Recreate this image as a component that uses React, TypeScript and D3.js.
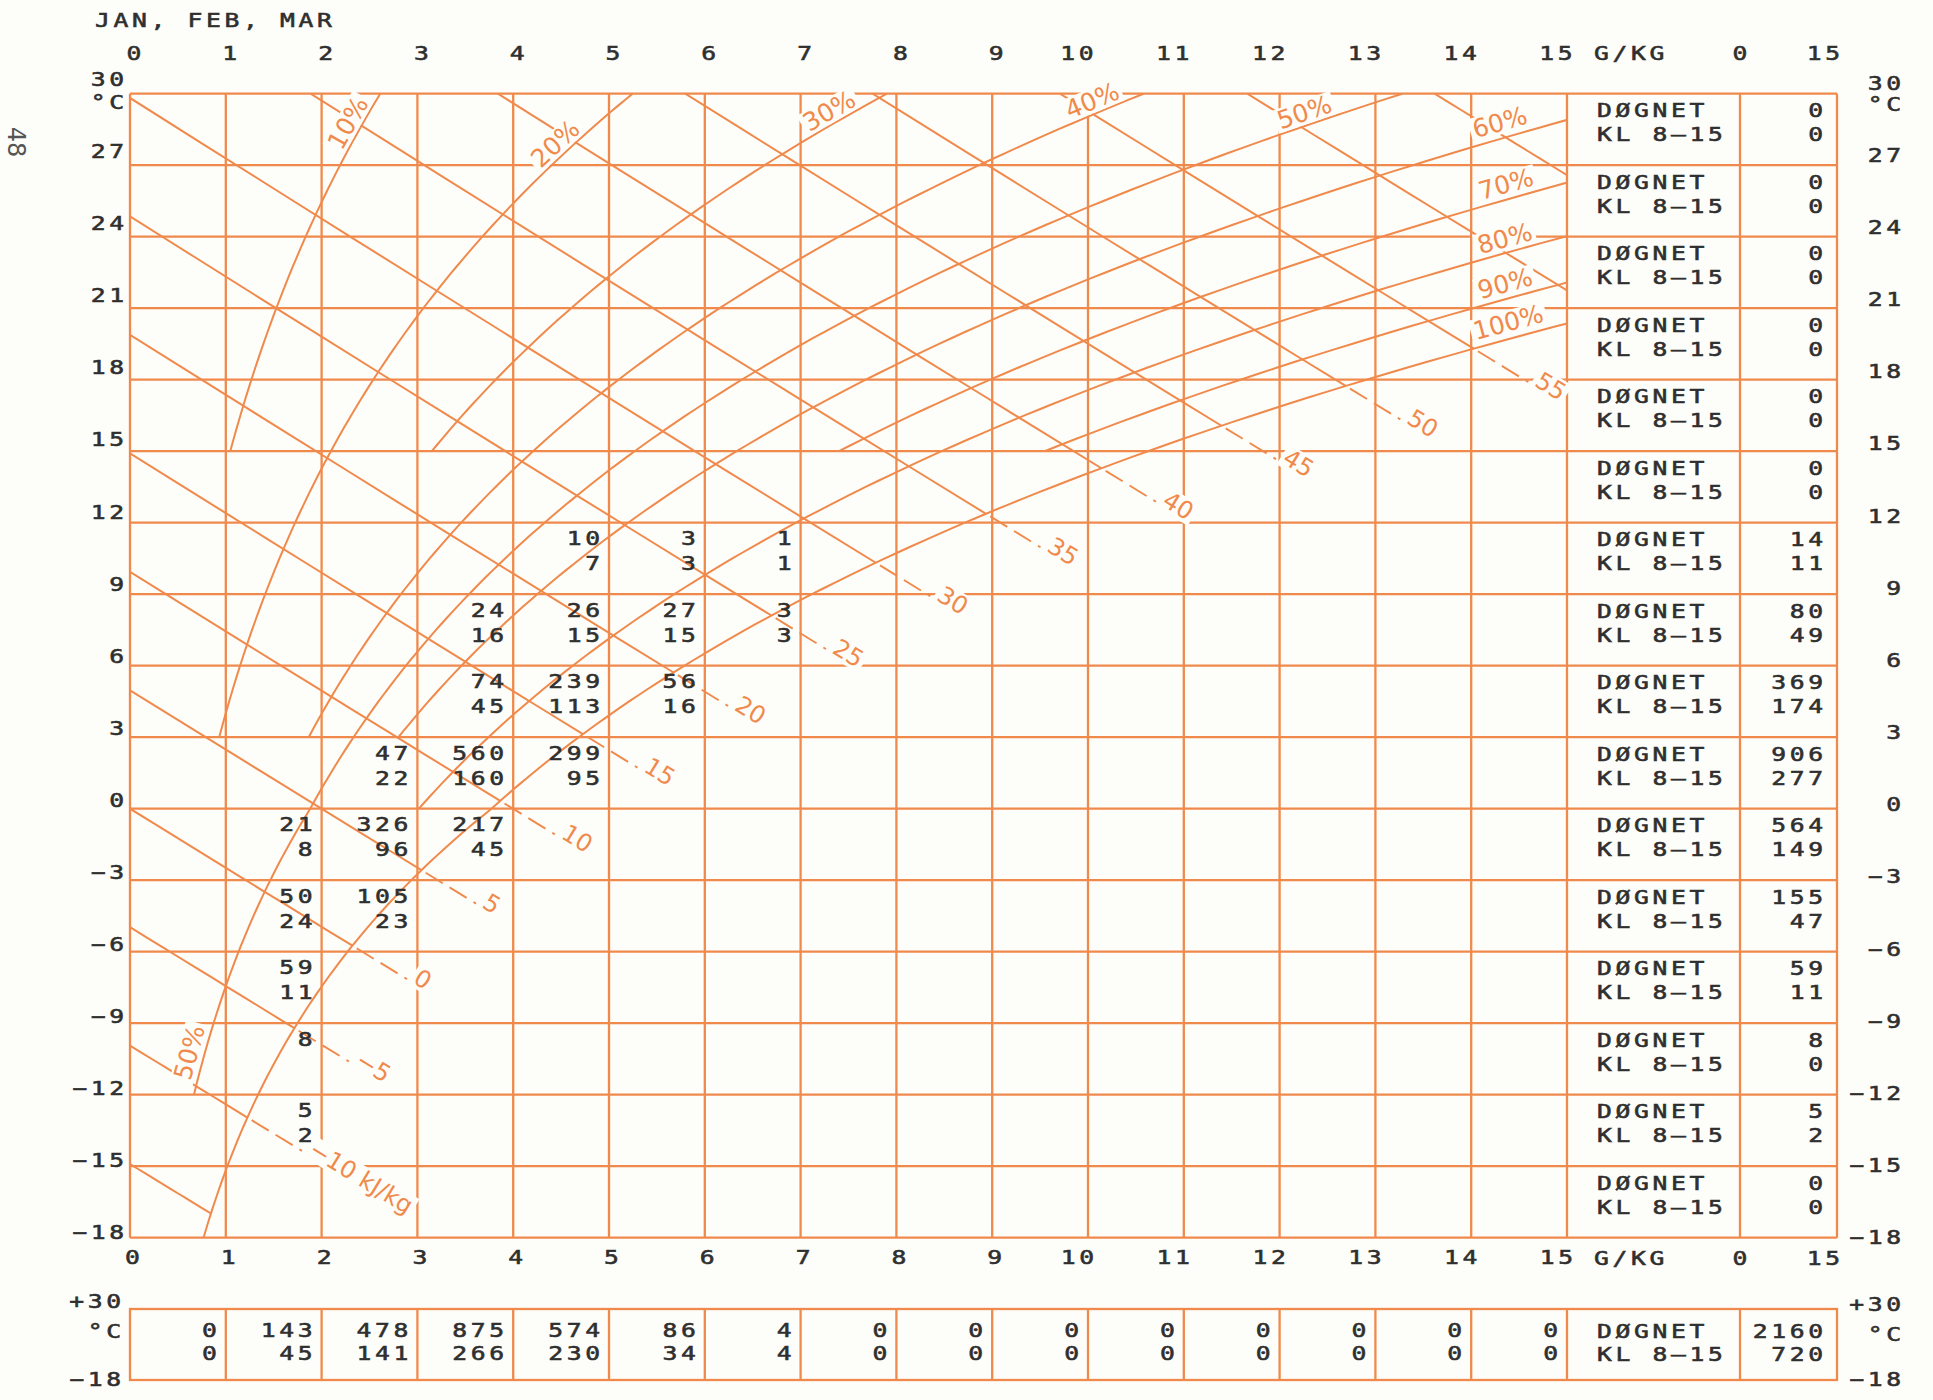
import React from "react";
import * as d3 from "d3";

// ---------- data ----------
const moistureTicks = d3.range(0, 16); // g/kg
const tempTicks = d3.range(30, -19, -3); // °C
const tempBands = d3.range(27, -19, -3); // lower edge of each 3 °C band

const rhLevels = [10, 20, 30, 40, 50, 60, 70, 80, 90, 100];
const rhFromT = [15, 3, 15, 3, -12, 3, 15, 0, 15, -18];
const rhLabelT = [28.5, 27.5, 28.8, 29.2, 28.7, 28.15, 25.6, 23.35, 21.42, 19.75];
const rhLabelGap = [13, 13, 13, 13, 13, 16, 15, 14, 15, 16];
const rhLowLabel = { level: 50, t: -10.4 };

const enthalpyLevels = d3.range(-15, 70, 5); // kJ/kg
const enthalpyLabelled = d3.range(-10, 60, 5);

// hours per cell: [g/kg column start, °C band start, whole day, kl 8-15]
const hourCells: [number, number, number, number][] = [
  [4, 9, 10, 7], [5, 9, 3, 3], [6, 9, 1, 1],
  [3, 6, 24, 16], [4, 6, 26, 15], [5, 6, 27, 15], [6, 6, 3, 3],
  [3, 3, 74, 45], [4, 3, 239, 113], [5, 3, 56, 16],
  [2, 0, 47, 22], [3, 0, 560, 160], [4, 0, 299, 95],
  [1, -3, 21, 8], [2, -3, 326, 96], [3, -3, 217, 45],
  [1, -6, 50, 24], [2, -6, 105, 23],
  [1, -9, 59, 11],
  [1, -12, 8, 0],
  [1, -15, 5, 2],
];
const rowLabels = ["DØGNET", "KL 8–15"];
const periodLabel = "JAN, FEB, MAR";

// ---------- style ----------
const BG = "#fdfdf9";
const ORANGE = "#f08a4c";
const INK = "#2f2f2f";
const MONO = "'DejaVu Sans Mono', monospace";
const SANS = "'DejaVu Sans', sans-serif";
const RH_FONT = 25;
const H_FONT = 24;

const ADV: Record<string, number> = { "%": 0.95, k: 0.579, J: 0.295, "/": 0.337, g: 0.635, " ": 0.318, "−": 0.838 };
const labelWidth = (s: string, size: number) => d3.sum(Array.from(s), (c) => ADV[c] ?? 0.636) * size;

const fmt = (v: number) => (v < 0 ? "−" + Math.abs(v) : String(v));

function T({ x, y, anchor = "start", children, fill = INK, size = 19, sx = 1.3, ls = 2.8 }: any) {
  const dx = anchor === "end" ? ls * sx : anchor === "middle" ? (ls * sx) / 2 : 0;
  return (
    <text
      transform={`translate(${x + dx},${y}) scale(${sx},1)`}
      textAnchor={anchor}
      dominantBaseline="central"
      fontFamily={MONO}
      fontSize={size}
      letterSpacing={ls}
      fill={fill}
      stroke={fill}
      strokeWidth={0.55}
    >
      {children}
    </text>
  );
}

export default function App() {
  const x = d3.scaleLinear().domain([0, 15]).range([130, 1567]);
  const y = d3.scaleLinear().domain([-18, 30]).range([1237.7, 93.7]);
  const tableMid = 1740;
  const tableRight = 1837;
  const stripTop = 1309;
  const stripBot = 1380;

  // moist air relations
  const P = 101.325;
  const psat = (t: number) =>
    t >= 0 ? 0.61094 * Math.exp((17.625 * t) / (t + 243.04)) : 0.61115 * Math.exp((22.452 * t) / (272.55 + t));
  const hum = (t: number, rh: number) => {
    const pv = (rh / 100) * psat(t);
    return (622 * pv) / (P - pv);
  };
  const enth = (t: number, g: number) => 1.006 * t + (g / 1000) * (2501 + 1.86 * t);
  const tOnH = (h: number, g: number) => (h - 2.501 * g) / (1.006 + 0.00186 * g);
  const satT = (h: number) => {
    let lo = -40, hi = 45;
    for (let i = 0; i < 60; i++) {
      const m = (lo + hi) / 2;
      if (enth(m, hum(m, 100)) > h) hi = m;
      else lo = m;
    }
    return (lo + hi) / 2;
  };

  const line = d3.line<[number, number]>().x((d) => x(d[0])).y((d) => y(d[1]));

  // relative humidity curves
  const rhPaths = rhLevels.map((rh, i) => {
    const pts = d3.range(rhFromT[i], 30.001, 0.25).map((t) => [hum(t, rh), t] as [number, number]);
    return line(pts) as string;
  });

  const rhLabel = (rh: number, t: number, d: number) => {
    const px = x(hum(t, rh)), py = y(t);
    const qx = x(hum(t + 0.1, rh)), qy = y(t + 0.1);
    const len = Math.hypot(qx - px, qy - py);
    const ux = (qx - px) / len, uy = (qy - py) / len;
    const nx = uy, ny = -ux;
    return { cx: px + d * nx, cy: py + d * ny, ang: (Math.atan2(uy, ux) * 180) / Math.PI, text: `${rh}%` };
  };
  const rhLabels = rhLevels.map((rh, i) => rhLabel(rh, rhLabelT[i], rhLabelGap[i]));
  rhLabels.push(rhLabel(rhLowLabel.level, rhLowLabel.t, 15));

  // enthalpy lines
  const hLines = enthalpyLevels.map((h) => {
    const g0 = h <= 30 ? 0 : (h - 30.18) / (2.501 + 0.0558);
    const tS = satT(h);
    const gS = hum(tS, 100);
    const gEnd = Math.min(gS, 15);
    const pts = d3.range(0, 11).map((k) => {
      const g = g0 + ((gEnd - g0) * k) / 10;
      return [g, tOnH(h, g)] as [number, number];
    });
    const sx = x(gEnd), sy = y(tOnH(h, gEnd));
    const qx = x(gEnd + 0.2), qy = y(tOnH(h, gEnd + 0.2));
    const len = Math.hypot(qx - sx, qy - sy);
    const ux = (qx - sx) / len, uy = (qy - sy) / len;
    const labelled = gS <= 15 && enthalpyLabelled.includes(h);
    return {
      h,
      path: line(pts) as string,
      sx, sy, ux, uy,
      ang: (Math.atan2(uy, ux) * 180) / Math.PI,
      labelled,
      text: h === -10 ? "−10 kJ/kg" : fmt(h),
    };
  });

  // totals
  const rowTotals = tempBands.map((b) => {
    const cs = hourCells.filter((c) => c[1] === b);
    return [d3.sum(cs, (c) => c[2]), d3.sum(cs, (c) => c[3])];
  });
  const colTotals = moistureTicks.slice(0, 15).map((m) => {
    const cs = hourCells.filter((c) => c[0] === m);
    return [d3.sum(cs, (c) => c[2]), d3.sum(cs, (c) => c[3])];
  });
  const grand = [d3.sum(hourCells, (c) => c[2]), d3.sum(hourCells, (c) => c[3])];

  const tickOffTop = (m: number) => (m < 10 ? 4 : -11);
  const tickOffBot = (m: number) => (m < 10 ? 2.5 : -10.5);

  return (
    <svg width={1933} height={1400} style={{ position: "absolute", left: 0, top: 0 }}>
      <rect width={1933} height={1400} fill={BG} />
      <defs>
        <clipPath id="plotArea">
          <rect x={x(0)} y={y(30)} width={x(15) - x(0)} height={y(-18) - y(30)} />
        </clipPath>
      </defs>

      {/* grid */}
      <g stroke={ORANGE} strokeWidth={2.3} fill="none">
        {tempTicks.map((t) => (
          <line key={"h" + t} x1={x(0)} x2={tableRight} y1={y(t)} y2={y(t)} />
        ))}
        {moistureTicks.map((m) => (
          <line key={"v" + m} x1={x(m)} x2={x(m)} y1={y(30)} y2={y(-18)} />
        ))}
        <line x1={tableMid} x2={tableMid} y1={y(30)} y2={y(-18)} />
        <line x1={tableRight} x2={tableRight} y1={y(30)} y2={y(-18)} />
        {/* summary strip */}
        <rect x={x(0)} y={stripTop} width={tableRight - x(0)} height={stripBot - stripTop} />
        {moistureTicks.slice(1).map((m) => (
          <line key={"s" + m} x1={x(m)} x2={x(m)} y1={stripTop} y2={stripBot} />
        ))}
        <line x1={tableMid} x2={tableMid} y1={stripTop} y2={stripBot} />
      </g>

      {/* relative humidity and enthalpy lines */}
      <g clipPath="url(#plotArea)" stroke={ORANGE} fill="none" strokeWidth={2}>
        {rhPaths.map((p, i) => (
          <path key={"rh" + i} d={p} />
        ))}
        {hLines.map((l) => (
          <path key={"hl" + l.h} d={l.path} />
        ))}
      </g>
      <g stroke={ORANGE} strokeWidth={1.9} strokeDasharray="20 8">
        {hLines
          .filter((l) => l.labelled)
          .map((l) => (
            <line
              key={"hd" + l.h}
              x1={l.sx + 5 * l.ux}
              y1={l.sy + 5 * l.uy}
              x2={l.sx + 64 * l.ux}
              y2={l.sy + 64 * l.uy}
            />
          ))}
      </g>

      {/* orange labels */}
      <g fontFamily={SANS} fill={ORANGE}>
        {rhLabels.map((l, i) => {
          const w = labelWidth(l.text, RH_FONT);
          return (
            <g key={"rl" + i} transform={`translate(${l.cx},${l.cy}) rotate(${l.ang})`}>
              <rect x={-w / 2 - 3} y={-12} width={w + 6} height={24} fill={BG} />
              <text textAnchor="middle" dominantBaseline="central" fontSize={RH_FONT}>
                {l.text}
              </text>
            </g>
          );
        })}
        {hLines
          .filter((l) => l.labelled)
          .map((l) => {
            const w = labelWidth(l.text, H_FONT);
            const lx = l.sx + 70 * l.ux;
            const ly = l.sy + 70 * l.uy;
            return (
              <g key={"hlab" + l.h} transform={`translate(${lx},${ly}) rotate(${l.ang})`}>
                <rect x={-3} y={-20} width={w + 6} height={24} fill={BG} />
                <text x={0} y={-8} dominantBaseline="central" fontSize={H_FONT}>
                  {l.text}
                </text>
              </g>
            );
          })}
      </g>

      {/* page number */}
      <text transform="translate(16,142) rotate(90)" textAnchor="middle" dominantBaseline="central" fontFamily={SANS} fontSize={24} fill="#555">
        48
      </text>

      {/* period title */}
      <T x={95} y={21}>{periodLabel}</T>

      {/* moisture axis, top and bottom */}
      {moistureTicks.map((m) => (
        <T key={"tt" + m} x={x(m) + tickOffTop(m)} y={54} anchor="middle">
          {m}
        </T>
      ))}
      {moistureTicks.map((m) => (
        <T key={"bt" + m} x={x(m) + tickOffBot(m)} y={1258} anchor="middle">
          {m}
        </T>
      ))}
      {[54, 1259].map((yy) => (
        <g key={"gk" + yy}>
          <T x={1594} y={yy}>G/KG</T>
          <T x={tableMid} y={yy} anchor="middle">0</T>
          <T x={1840} y={yy} anchor="end">15</T>
        </g>
      ))}

      {/* temperature axis, left and right */}
      {tempTicks.map((t) =>
        t === 30 ? (
          <g key={"lt" + t}>
            <T x={124} y={80} anchor="end">30</T>
            <T x={124} y={103} anchor="end">°C</T>
            <T x={1901} y={84} anchor="end">30</T>
            <T x={1901} y={105} anchor="end">°C</T>
          </g>
        ) : (
          <g key={"lt" + t}>
            <T x={124} y={y(t) - (5 + (8.5 * (t + 18)) / 45)} anchor="end">
              {fmt(t)}
            </T>
            <T x={1901} y={y(t) - (10 * (t + 18)) / 45} anchor="end">
              {fmt(t)}
            </T>
          </g>
        )
      )}

      {/* hours in each cell */}
      {hourCells.map(([m, b, day, kl]) => (
        <g key={`c${m}_${b}`}>
          <T x={x(m + 1) - 9} y={y(b + 3) + 16} anchor="end">
            {day}
          </T>
          {kl > 0 && (
            <T x={x(m + 1) - 9} y={y(b + 3) + 41} anchor="end">
              {kl}
            </T>
          )}
        </g>
      ))}

      {/* row totals */}
      {tempBands.map((b, i) => (
        <g key={"rt" + b}>
          <T x={1597} y={y(b + 3) + 17}>{rowLabels[0]}</T>
          <T x={1597} y={y(b + 3) + 41}>{rowLabels[1]}</T>
          <T x={1823} y={y(b + 3) + 17} anchor="end">{rowTotals[i][0]}</T>
          <T x={1823} y={y(b + 3) + 41} anchor="end">{rowTotals[i][1]}</T>
        </g>
      ))}

      {/* summary strip */}
      <T x={121} y={1302} anchor="end">+30</T>
      <T x={121} y={1332} anchor="end">°C</T>
      <T x={121} y={1380} anchor="end">−18</T>
      <T x={1901} y={1305} anchor="end">+30</T>
      <T x={1901} y={1335} anchor="end">°C</T>
      <T x={1901} y={1380} anchor="end">−18</T>
      {colTotals.map((c, i) => (
        <g key={"ct" + i}>
          <T x={x(i + 1) - 9} y={1331} anchor="end">{c[0]}</T>
          <T x={x(i + 1) - 9} y={1354} anchor="end">{c[1]}</T>
        </g>
      ))}
      <T x={1597} y={1332}>{rowLabels[0]}</T>
      <T x={1597} y={1355}>{rowLabels[1]}</T>
      <T x={1823} y={1332} anchor="end">{grand[0]}</T>
      <T x={1823} y={1355} anchor="end">{grand[1]}</T>
    </svg>
  );
}
